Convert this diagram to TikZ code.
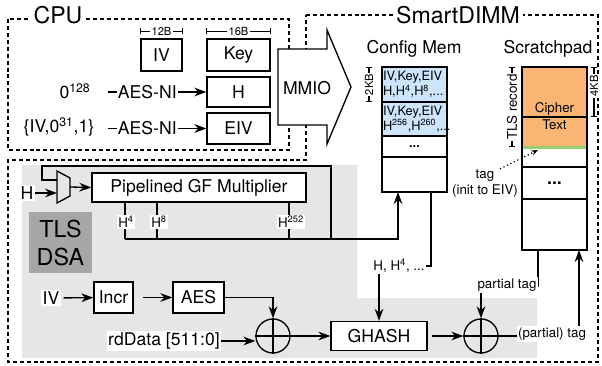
\documentclass[tikz,border=0pt]{standalone}
\usepackage{fontspec}
\setmainfont{TeX Gyre Heros}
\usetikzlibrary{arrows.meta,calc}
\newcommand\pxu{0.75pt}
\definecolor{cmblue}{RGB}{204,228,252}
\definecolor{sporange}{RGB}{250,180,115}
\definecolor{spgreen}{RGB}{146,208,112}
\definecolor{dsalight}{RGB}{230,230,230}
\definecolor{dsadark}{RGB}{166,166,166}
\tikzset{
  every node/.style={inner sep=0pt, font=\fontsize{13.2}{15.8}\selectfont},
  ftitle/.style={font=\fontsize{17.3}{20}\selectfont},
  fbig/.style={font=\fontsize{17.5}{21}\selectfont},
  fsmall/.style={font=\fontsize{10}{12}\selectfont},
  ftiny/.style={font=\fontsize{8.4}{10}\selectfont},
  bw/.style={minimum width=#1*\pxu},
  bh/.style={minimum height=#1*\pxu},
  box/.style={draw, line width=1pt, fill=white},
  wire/.style={line width=1pt},
  arr/.style={line width=1pt, -{Stealth[length=9pt,width=6.5pt]}},
  dashbox/.style={line width=0.8pt, dash pattern=on 3pt off 2.2pt},
  dim/.style={line width=0.8pt, {Bar[width=4.5pt]}-{Bar[width=4.5pt]}},
  lbl/.style={fill=white, inner sep=1pt},
  cmrow/.style={draw, line width=1pt, fill=cmblue, text width=47.25pt,
    inner sep=0.75pt, align=left, font=\fontsize{9.6}{9.2}\selectfont},
  sprow/.style={draw, line width=1pt, minimum width=65*\pxu},
  xorop/.style={circle, draw, line width=1pt, minimum size=34*\pxu},
}
\begin{document}
\begin{tikzpicture}[x=0.75pt,y=-0.75pt]
\useasboundingbox (0,0) rectangle (602,366);

% shaded accelerator area
\fill[dsalight] (22,165) -- (357,165) -- (357,298) -- (537,298) -- (537,358) -- (22,358) -- cycle;

% CPU and SmartDIMM outlines
\draw[dashbox] (8,19) rectangle (289,150);
\draw[dashbox] (306,15) -- (598,15) -- (598,362) -- (8,362) -- (8,160) -- (306,160) -- cycle;
\node[ftitle, fill=white, inner sep=2.5pt] (cpu) at (58,15.5) {CPU};
\node[ftitle, fill=white, inner sep=2.5pt] (dimm) at (458,15) {SmartDIMM};

% CPU side registers
\node[box,bw=41,bh=32] (iv) at (161.5,55) {IV};
\node[box,bw=63,bh=32] (key) at (238.5,55) {Key};
\node[box,bw=63,bh=30] (h) at (238.5,92) {H};
\node[box,bw=63,bh=31] (eiv) at (238.5,128.5) {EIV};
\draw[dim] ($(iv.north west)+(0,-7)$) -- node[ftiny, lbl]{12B} ($(iv.north east)+(0,-7)$);
\draw[dim] ($(key.north west)+(0,-7)$) -- node[ftiny, lbl]{16B} ($(key.north east)+(0,-7)$);

\node (zero) at (75,91) {0\textsuperscript{128}};
\node (ivcat) at (59,127) {\{IV,0\textsuperscript{31},1\}};
\coordinate (ni1) at (108,92);
\coordinate (ni2) at (108,128.5);
\draw[arr] (ni1) -- node[lbl, pos=0.4]{AES-NI} (h.west);
\draw[arr] (ni2) -- node[lbl, pos=0.4]{AES-NI} (eiv.west);

% MMIO transfer arrow
\draw[line width=1pt, fill=white] (278,49) -- (327,49) -- (327,30) -- (351,87)
  -- (327,144) -- (327,125) -- (278,125) -- cycle;
\node (mmio) at (307,88) {MMIO};

% Config memory
\node (cmtitle) at (414,49) {Config Mem};
\node[cmrow, minimum height=35*\pxu] (cm1) at (414.5,84.5) {IV,Key,EIV\\H,H\textsuperscript{4},H\textsuperscript{8},...};
\node[cmrow, minimum height=34*\pxu] (cm2) at (414.5,119) {IV,Key,EIV\\H\textsuperscript{256},H\textsuperscript{260},...};
\node[cmrow, fill=white, align=center, minimum height=21*\pxu] (cm3) at (414.5,146.5) {\textbf{...}};
\node[cmrow, fill=white, minimum height=35*\pxu] (cm4) at (414.5,174.5) {};
\draw[dim] (369,102) -- node[ftiny, lbl, rotate=90]{2KB} (369,67);

% Scratchpad
\node (sptitle) at (548,49) {Scratchpad};
\fill[sporange] (522,117) rectangle (587,146);
\fill[spgreen] (522,146) rectangle (587,149.5);
\node[sprow, fill=sporange, minimum height=50*\pxu] (sp1) at (554.5,92) {};
\node[sprow, minimum height=50*\pxu] (sp2) at (554.5,142) {};
\node[sprow, minimum height=32*\pxu] (sp3) at (554.5,183) {\textbf{...}};
\node[sprow, minimum height=51*\pxu] (sp4) at (554.5,224.5) {};
\node[fsmall, align=center, font=\fontsize{10}{12.75}\selectfont] (cipher) at (554.5,116.5) {Cipher\\Text};
\draw[dim] (512,147) -- node[fsmall, lbl, rotate=90]{TLS record} (512,67);
\draw[dim] (594,117) -- node[ftiny, lbl, rotate=90, pos=0.62]{4KB} (594,67);

\node[align=center, font=\fontsize{10}{12}\selectfont] (tag) at (485,183) {tag\\(init to EIV)};
\coordinate (tagend) at (538,150);
\draw[dotted, line width=0.9pt, -{Stealth[length=5pt,width=4pt]}] ($(tag.north)+(15,0)$) -- (tagend);

% GF multiplier with feedback mux
\node[lbl] (hin) at (27,193) {H};
\coordinate (muxin) at (57,193);
\coordinate (muxfb) at (57,180);
\coordinate (muxout) at (70,187);
\draw[wire] (57,171) -- (70,178) -- (70,196) -- (57,203) -- cycle;
\draw[arr] (hin.east) -- (muxin);
\node[box,bw=214,bh=29] (gf) at (199,187.5) {Pipelined GF Multiplier};
\draw[arr] (muxout) -- (gf.west);

\coordinate (t1) at (125,239);
\coordinate (t2) at (157,239);
\coordinate (t3) at (289,239);
\coordinate (bend) at (331,239);
\coordinate (cmin) at (398,192);
\draw[wire] (gf.south -| t1) -- (t1);
\draw[wire] (gf.south -| t2) -- (t2);
\draw[wire] (gf.south -| t3) -- (t3);
\draw[wire] (bend) -- (331,166) -- (42,166) -- (42,180) -- (muxfb);
\draw[arr] (t1) -- (t1 -| cmin) -- (cmin);
\node[lbl, fsmall] (p4) at (126,222) {H\textsuperscript{4}};
\node[lbl, fsmall] (p8) at (159,222) {H\textsuperscript{8}};
\node[lbl, fsmall] (p252) at (291,222) {H\textsuperscript{252}};

\node[fbig, fill=dsadark, align=center, bw=63, bh=61] (dsa) at (60.5,242.5) {TLS\\DSA};

% counter-mode encryption and GHASH datapath
\node[lbl] (ivin) at (51,298) {IV};
\node[box,bw=39,bh=31] (incr) at (113.5,297.5) {Incr};
\node[box,bw=51,bh=31] (aes) at (198.5,297.5) {AES};
\draw[arr, shorten <=2pt] (ivin) -- (incr);
\draw[arr, shorten <=7pt] (incr) -- (aes);

\node[xorop] (x1) at (273,336) {};
\draw[wire] (x1.north) -- (x1.south) (x1.west) -- (x1.east);
\draw[arr] (aes.east) -| (x1.north);
\node[lbl] (rd) at (164,341) {rdData [511:0]};
\draw[arr] (rd.east) -- (rd.east -| x1.west);

\node[box,bw=96,bh=29] (gh) at (379,336) {GHASH};
\draw[arr] (x1.east) -- (gh.west);
\node[xorop] (x2) at (481,336) {};
\draw[wire] (x2.north) -- (x2.south) (x2.west) -- (x2.east);
\draw[arr, shorten <=3pt] (gh.east) -- (x2.west);

\coordinate (cmout) at (431,192);
\coordinate (hk) at (379,266);
\draw[arr] (cmout) |- (hk) -- (gh.north);
\node[lbl, fsmall] (hkeys) at (399,266) {H, H\textsuperscript{4}, ...};

\coordinate (spout) at (538,250);
\coordinate (ptag) at (481,286);
\draw[arr] (spout) |- (ptag) -- (x2.north);
\node[lbl, fsmall] (ptaglbl) at (507,285) {partial tag};

\coordinate (spin) at (579,250);
\draw[arr] (x2.east) -| (spin);
\node[lbl, fsmall] (tagout) at (552,334) {(partial) tag};
\end{tikzpicture}
\end{document}
